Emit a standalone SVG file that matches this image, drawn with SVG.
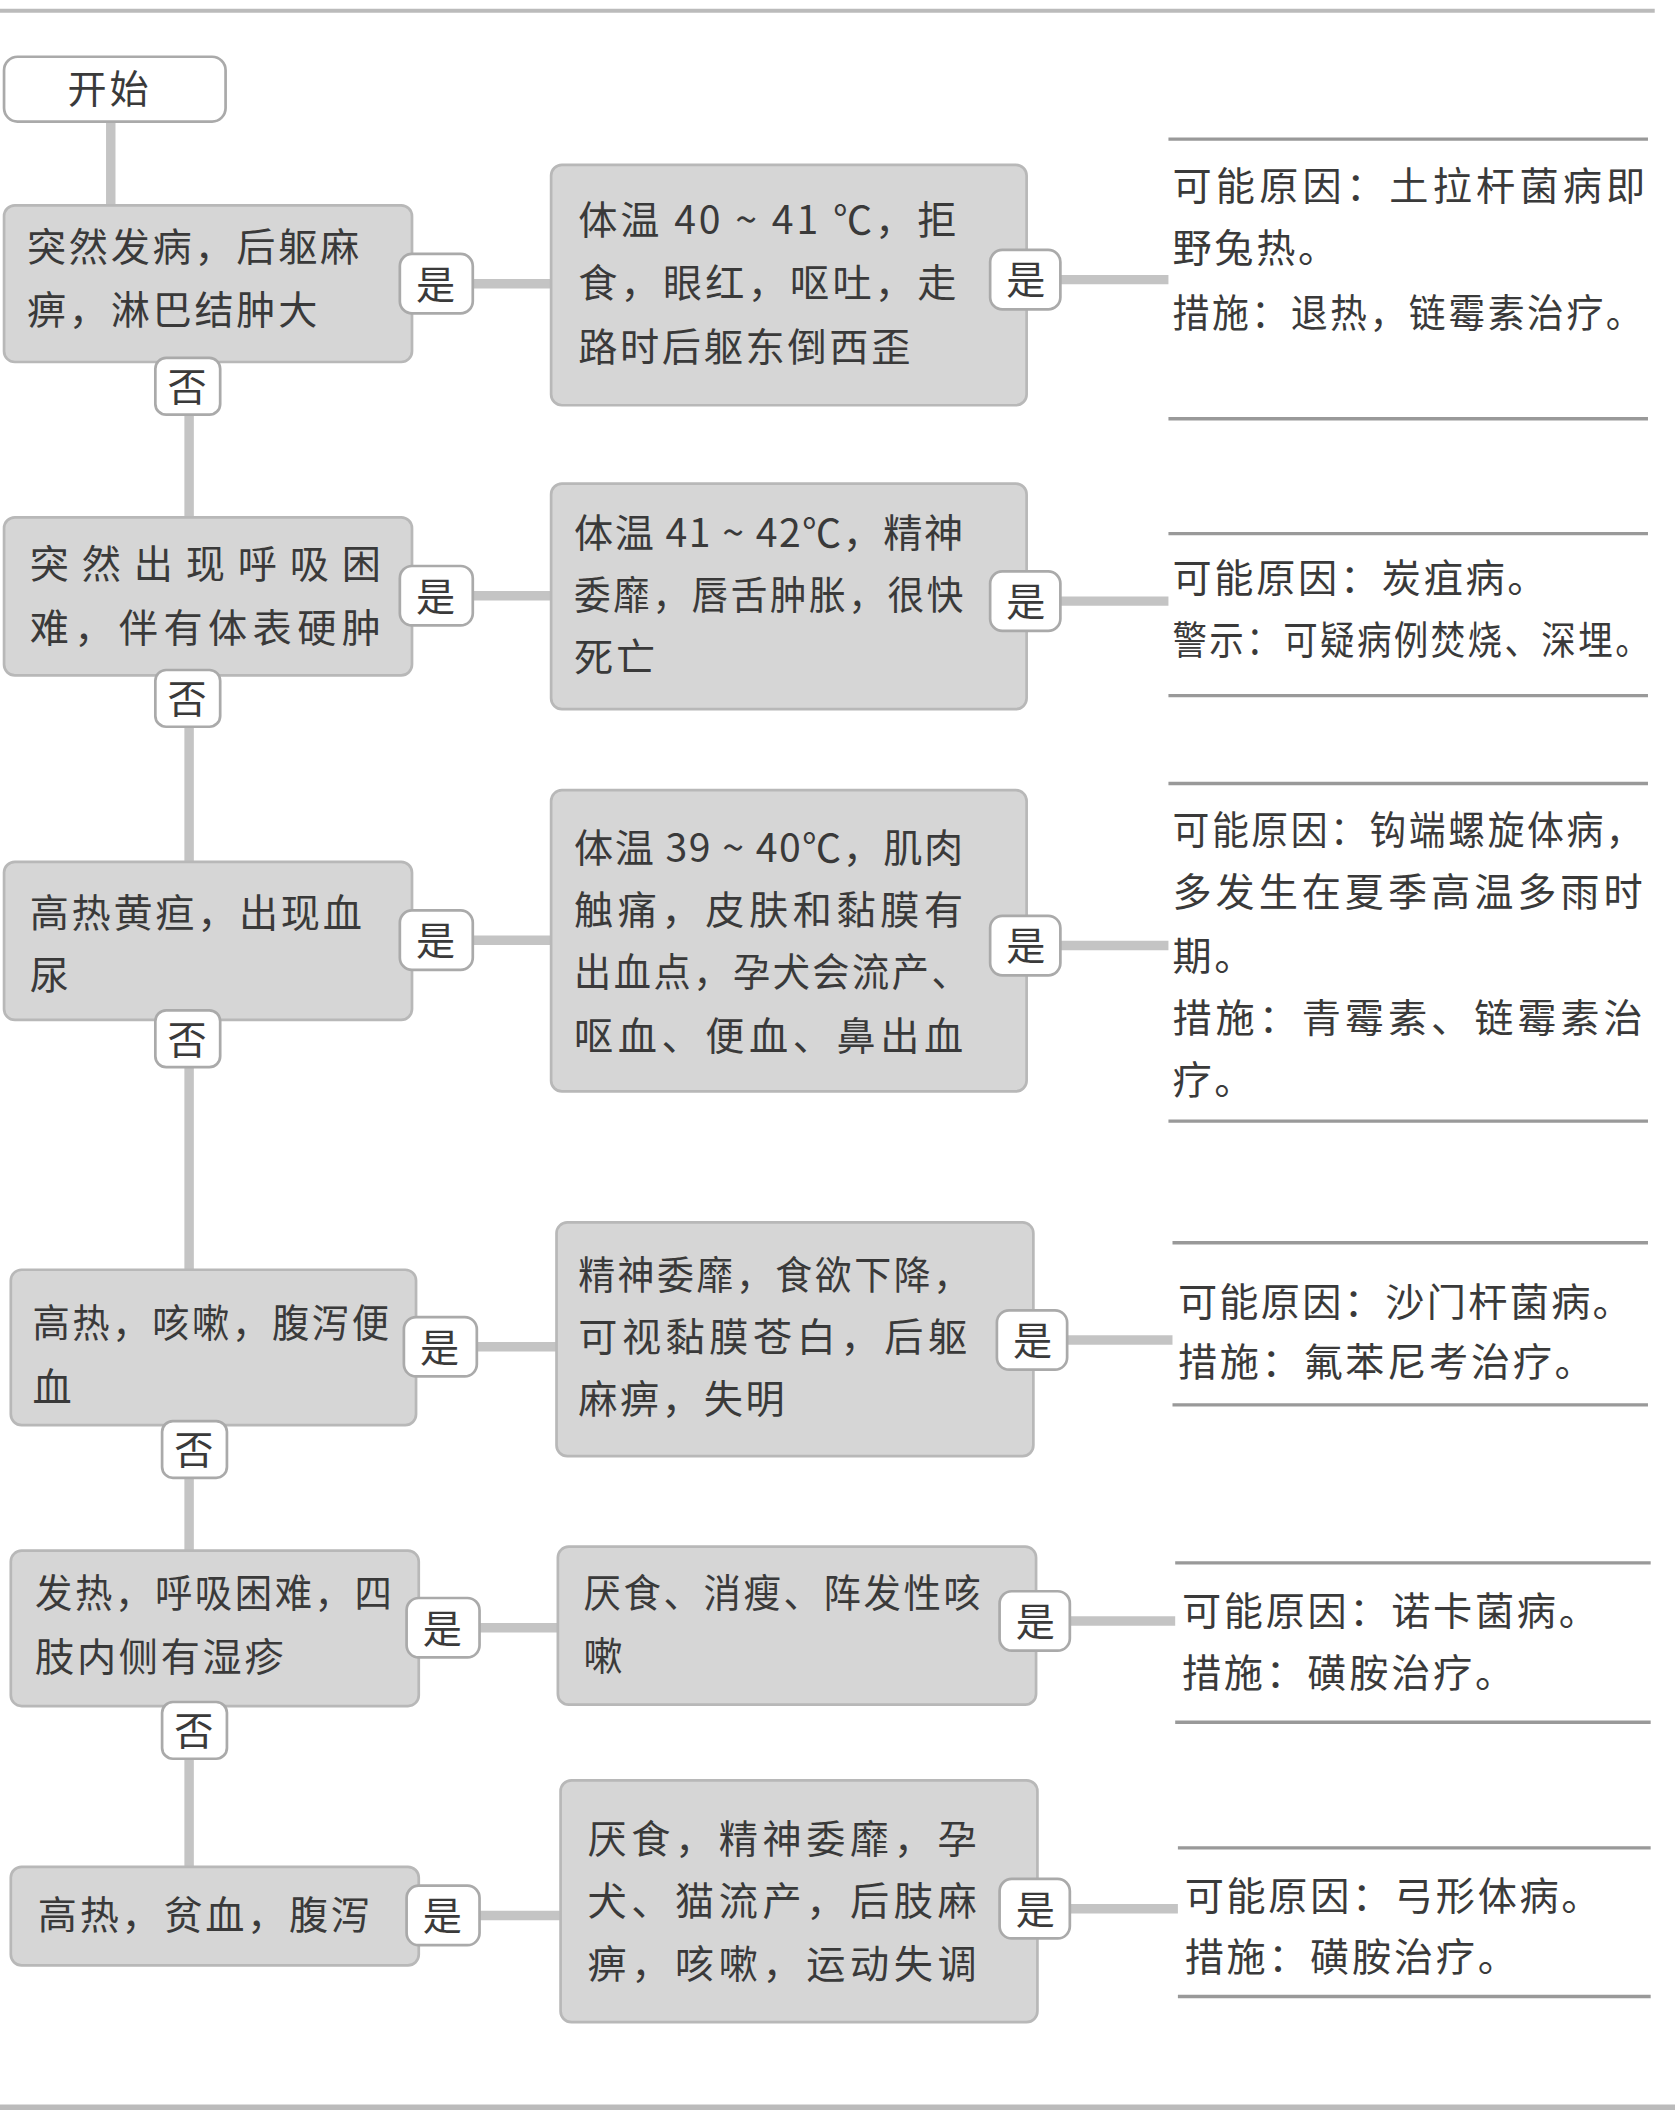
<svg xmlns="http://www.w3.org/2000/svg" width="1675" height="2120" viewBox="0 0 1675 2120">
<style>
.bx{fill:#d6d6d6;stroke:#b8b8b8;stroke-width:2}
.wb{fill:#fff;stroke:#aaa;stroke-width:2}
.t{font-family:"Noto Sans CJK SC",sans-serif;font-size:29px;fill:#3a3a3a;letter-spacing:2px}
.c{stroke:#c4c4c4;stroke-width:7;fill:none}
.hl{stroke:#999;stroke-width:2.5}
</style>
<rect width="1675" height="2120" fill="#fff"/>
<g transform="scale(1.3508)">
<line x1="0" y1="8" x2="1225" y2="8" stroke="#bbb" stroke-width="3"/>
<line x1="0" y1="1560" x2="1240" y2="1560" stroke="#bbb" stroke-width="4"/>
<g id="connectors">
<line class="c" x1="82" y1="90" x2="82" y2="152"/>
<line class="c" x1="140" y1="268" x2="140" y2="1382"/>
<line class="c" x1="350" y1="210" x2="408" y2="210"/><line class="c" x1="785" y1="207" x2="865" y2="207"/>
<line class="c" x1="350" y1="441" x2="408" y2="441"/><line class="c" x1="785" y1="445" x2="865" y2="445"/>
<line class="c" x1="350" y1="696" x2="408" y2="696"/><line class="c" x1="785" y1="700" x2="865" y2="700"/>
<line class="c" x1="353" y1="997" x2="412" y2="997"/><line class="c" x1="790" y1="992" x2="868" y2="992"/>
<line class="c" x1="355" y1="1205" x2="413" y2="1205"/><line class="c" x1="792" y1="1200" x2="870" y2="1200"/>
<line class="c" x1="355" y1="1418" x2="415" y2="1418"/><line class="c" x1="792" y1="1413" x2="872" y2="1413"/>
</g>
<g id="start"><rect class="wb" x="3" y="42" width="164" height="48" rx="10"/><text class="t" x="50" y="76">开始</text></g>
<g id="q1"><rect class="bx" x="3" y="152" width="302" height="116" rx="8"/><text class="t" x="20" y="193">突然发病，后躯麻</text><text class="t" x="20" y="240">痹，淋巴结肿大</text></g>
<g id="q2"><rect class="bx" x="3" y="383" width="302" height="117" rx="8"/><text class="t" x="22" y="428" textLength="262">突然出现呼吸困</text><text class="t" x="22" y="475" textLength="262">难，伴有体表硬肿</text></g>
<g id="q3"><rect class="bx" x="3" y="638" width="302" height="117" rx="8"/><text class="t" x="22" y="686">高热黄疸，出现血</text><text class="t" x="22" y="732">尿</text></g>
<g id="q4"><rect class="bx" x="8" y="940" width="300" height="115" rx="8"/><text class="t" x="24" y="990" textLength="266" lengthAdjust="spacingAndGlyphs">高热，咳嗽，腹泻便</text><text class="t" x="24" y="1037">血</text></g>
<g id="q5"><rect class="bx" x="8" y="1148" width="302" height="115" rx="8"/><text class="t" x="26" y="1190" textLength="266" lengthAdjust="spacingAndGlyphs">发热，呼吸困难，四</text><text class="t" x="26" y="1237">肢内侧有湿疹</text></g>
<g id="q6"><rect class="bx" x="8" y="1382" width="302" height="73" rx="8"/><text class="t" x="28" y="1428">高热，贫血，腹泻</text></g>
<g id="no1"><rect class="wb" x="115" y="265" width="48" height="42" rx="8"/><text class="t" x="124" y="297">否</text></g>
<g id="no2"><rect class="wb" x="115" y="496" width="48" height="42" rx="8"/><text class="t" x="124" y="528">否</text></g>
<g id="no3"><rect class="wb" x="115" y="748" width="48" height="42" rx="8"/><text class="t" x="124" y="780">否</text></g>
<g id="no4"><rect class="wb" x="120" y="1052" width="48" height="42" rx="8"/><text class="t" x="129" y="1084">否</text></g>
<g id="no5"><rect class="wb" x="120" y="1260" width="48" height="42" rx="8"/><text class="t" x="129" y="1292">否</text></g>
<g id="y1"><rect class="wb" x="296" y="188" width="54" height="44" rx="9"/><text class="t" x="308" y="221">是</text></g>
<g id="y2"><rect class="wb" x="296" y="419" width="54" height="44" rx="9"/><text class="t" x="308" y="452">是</text></g>
<g id="y3"><rect class="wb" x="296" y="674" width="54" height="44" rx="9"/><text class="t" x="308" y="707">是</text></g>
<g id="y4"><rect class="wb" x="299" y="975" width="54" height="44" rx="9"/><text class="t" x="311" y="1008">是</text></g>
<g id="y5"><rect class="wb" x="301" y="1183" width="54" height="44" rx="9"/><text class="t" x="313" y="1216">是</text></g>
<g id="y6"><rect class="wb" x="301" y="1396" width="54" height="44" rx="9"/><text class="t" x="313" y="1429">是</text></g>
<g id="m1"><rect class="bx" x="408" y="122" width="352" height="178" rx="8"/><text class="t" x="428" y="173" textLength="282">体温 40 ~ 41 ℃，拒</text><text class="t" x="428" y="220" textLength="282">食，眼红，呕吐，走</text><text class="t" x="428" y="267">路时后躯东倒西歪</text></g>
<g id="m2"><rect class="bx" x="408" y="358" width="352" height="167" rx="8"/><text class="t" x="425" y="405" textLength="290">体温 41 ~ 42℃，精神</text><text class="t" x="425" y="451" textLength="290" lengthAdjust="spacingAndGlyphs">委靡，唇舌肿胀，很快</text><text class="t" x="425" y="497">死亡</text></g>
<g id="m3"><rect class="bx" x="408" y="585" width="352" height="223" rx="8"/><text class="t" x="425" y="638" textLength="290">体温 39 ~ 40℃，肌肉</text><text class="t" x="425" y="684" textLength="290">触痛，皮肤和黏膜有</text><text class="t" x="425" y="730" textLength="294" lengthAdjust="spacingAndGlyphs">出血点，孕犬会流产、</text><text class="t" x="425" y="777" textLength="290">呕血、便血、鼻出血</text></g>
<g id="m4"><rect class="bx" x="412" y="905" width="353" height="173" rx="8"/><text class="t" x="428" y="954" textLength="292" lengthAdjust="spacingAndGlyphs">精神委靡，食欲下降，</text><text class="t" x="428" y="1000" textLength="290">可视黏膜苍白，后躯</text><text class="t" x="428" y="1046">麻痹，失明</text></g>
<g id="m5"><rect class="bx" x="413" y="1145" width="354" height="117" rx="8"/><text class="t" x="432" y="1190" textLength="296" lengthAdjust="spacingAndGlyphs">厌食、消瘦、阵发性咳</text><text class="t" x="432" y="1236">嗽</text></g>
<g id="m6"><rect class="bx" x="415" y="1318" width="353" height="179" rx="8"/><text class="t" x="435" y="1372" textLength="290">厌食，精神委靡，孕</text><text class="t" x="435" y="1418" textLength="290">犬、猫流产，后肢麻</text><text class="t" x="435" y="1464" textLength="290">痹，咳嗽，运动失调</text></g>
<g id="z1"><rect class="wb" x="733" y="185" width="52" height="44" rx="9"/><text class="t" x="745" y="218">是</text></g>
<g id="z2"><rect class="wb" x="733" y="423" width="52" height="44" rx="9"/><text class="t" x="745" y="456">是</text></g>
<g id="z3"><rect class="wb" x="733" y="678" width="52" height="44" rx="9"/><text class="t" x="745" y="711">是</text></g>
<g id="z4"><rect class="wb" x="738" y="970" width="52" height="44" rx="9"/><text class="t" x="750" y="1003">是</text></g>
<g id="z5"><rect class="wb" x="740" y="1178" width="52" height="44" rx="9"/><text class="t" x="752" y="1211">是</text></g>
<g id="z6"><rect class="wb" x="740" y="1391" width="52" height="44" rx="9"/><text class="t" x="752" y="1424">是</text></g>
<g id="r1"><line class="hl" x1="865" y1="103" x2="1220" y2="103"/><text class="t" x="868" y="148" textLength="352">可能原因：土拉杆菌病即</text><text class="t" x="868" y="194">野兔热。</text><text class="t" x="868" y="242" textLength="350" lengthAdjust="spacingAndGlyphs">措施：退热，链霉素治疗。</text><line class="hl" x1="865" y1="310" x2="1220" y2="310"/></g>
<g id="r2"><line class="hl" x1="865" y1="395" x2="1220" y2="395"/><text class="t" x="868" y="438">可能原因：炭疽病。</text><text class="t" x="868" y="484" textLength="355" lengthAdjust="spacingAndGlyphs">警示：可疑病例焚烧、深埋。</text><line class="hl" x1="865" y1="515" x2="1220" y2="515"/></g>
<g id="r3"><line class="hl" x1="865" y1="580" x2="1220" y2="580"/><text class="t" x="868" y="625" textLength="350" lengthAdjust="spacingAndGlyphs">可能原因：钩端螺旋体病，</text><text class="t" x="868" y="671" textLength="350">多发生在夏季高温多雨时</text><text class="t" x="868" y="718">期。</text><text class="t" x="868" y="764" textLength="350">措施：青霉素、链霉素治</text><text class="t" x="868" y="810">疗。</text><line class="hl" x1="865" y1="830" x2="1220" y2="830"/></g>
<g id="r4"><line class="hl" x1="868" y1="920" x2="1220" y2="920"/><text class="t" x="872" y="974" textLength="338">可能原因：沙门杆菌病。</text><text class="t" x="872" y="1019">措施：氟苯尼考治疗。</text><line class="hl" x1="868" y1="1040" x2="1220" y2="1040"/></g>
<g id="r5"><line class="hl" x1="870" y1="1157" x2="1222" y2="1157"/><text class="t" x="875" y="1203">可能原因：诺卡菌病。</text><text class="t" x="875" y="1249">措施：磺胺治疗。</text><line class="hl" x1="870" y1="1275" x2="1222" y2="1275"/></g>
<g id="r6"><line class="hl" x1="872" y1="1368" x2="1222" y2="1368"/><text class="t" x="877" y="1414">可能原因：弓形体病。</text><text class="t" x="877" y="1459">措施：磺胺治疗。</text><line class="hl" x1="872" y1="1478" x2="1222" y2="1478"/></g>
</g>
</svg>
